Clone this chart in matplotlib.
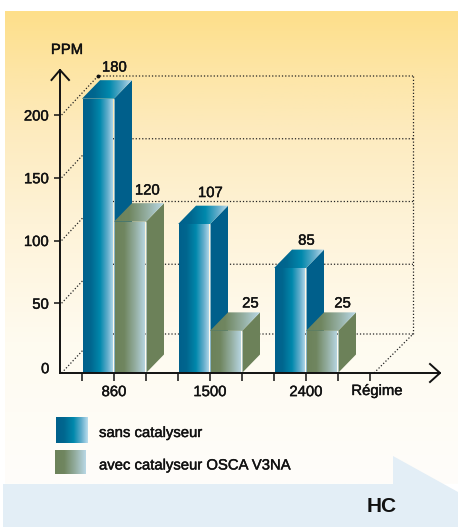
import numpy as np
import matplotlib
matplotlib.use("Agg")
import matplotlib.pyplot as plt
import matplotlib.patheffects as pe
from matplotlib.colors import LinearSegmentedColormap
from matplotlib.patches import Polygon

categories = ["860", "1500", "2400"]
series_names = ["sans catalyseur", "avec catalyseur OSCA V3NA"]
# printed value labels
labels_sans = [180, 107, 85]
labels_avec = [120, 25, 25]
# bar heights as drawn against the PPM axis
heights_sans = [213, 113, 78]
heights_avec = [115, 28, 28]
y_ticks = [50, 100, 150, 200]

W, H = 458, 527
PX_X, X0 = 32.0, 114.0      # px per category unit, px of first category
PX_Y, Y0 = 1.255, 366.0     # px per ppm, px of ppm 0
FLOOR = (Y0 - 373) / PX_Y
DX, DY = 18 / PX_X, 18.5 / PX_Y
WX, WY = 38 / PX_X, 39 / PX_Y
LEFT = (60 - X0) / PX_X
RIGHT = (440 - X0) / PX_X
TOP = (Y0 - 70) / PX_Y
YMAX_WALL = (Y0 - 115) / PX_Y
INK = "#111111"
FONT = "Liberation Sans"
FS = 10.7
HALO = [pe.withStroke(linewidth=0.3, foreground=INK)]

blue_cm = LinearSegmentedColormap.from_list("b", [(0, "#00608C"), (.25, "#00678F"), (.55, "#0088AC"), (.8, "#62ADCB"), (1, "#BBDDEE")])
green_cm = LinearSegmentedColormap.from_list("g", [(0, "#6C825A"), (.3, "#708660"), (.65, "#93AD9F"), (1, "#B9D8E6")])
bg_cm = LinearSegmentedColormap.from_list("bg", [(0, "#FEDF8A"), (.12, "#FDE5A4"), (.25, "#FDEBBE"), (.45, "#FEF3D8"), (.7, "#FFFBF0"), (1, "#FEFDFA")])
BLUE_SIDE, GREEN_SIDE = "#005F8B", "#6C8159"

fig = plt.figure(figsize=(W / 100, H / 100), dpi=100, facecolor="white")

# background layer, in pixels
bg = fig.add_axes([0, 0, 1, 1], zorder=0)
bg.set_xlim(0, W); bg.set_ylim(H, 0); bg.axis("off")
bg.imshow(np.linspace(0, 1, 256)[:, None], cmap=bg_cm, aspect="auto", extent=(5, W, 484, 11), zorder=1)
bg.add_patch(Polygon([(3, 484), (393, 484), (393, 456), (458, 492), (458, 527), (3, 527)], fc="#E3EEF6", ec="none", zorder=2))
bg.set_xlim(0, W); bg.set_ylim(H, 0)
grad = np.linspace(0, 1, 128)[None, :]
for (x0, x1, y0, y1), cm in zip([(56, 88, 417, 443), (55, 86, 450, 474)], [blue_cm, green_cm]):
    bg.imshow(grad, cmap=cm, aspect="auto", extent=(x0, x1, y1, y0), zorder=3)
bg.set_xlim(0, W); bg.set_ylim(H, 0)
for name, y in zip(series_names, [433, 465.5]):
    bg.text(99, y, name, fontsize=FS, family=FONT, color=INK, va="center", ha="left", zorder=4, path_effects=HALO)
bg.text(382, 507, "HC", fontsize=15, family=FONT, weight="bold", color=INK, va="center", ha="center", zorder=4)

# chart layer, in data units
ax = fig.add_axes([0, 0, 1, 1], zorder=1)
ax.patch.set_alpha(0)
xlim = (-X0 / PX_X, (W - X0) / PX_X)
ylim = ((Y0 - H) / PX_Y, Y0 / PX_Y)


def gradient(poly, cm, zorder):
    xs, ys = zip(*poly)
    im = ax.imshow(grad, cmap=cm, aspect="auto", zorder=zorder,
                   extent=(min(xs), max(xs), min(ys), max(ys)))
    patch = Polygon(poly, transform=ax.transData, fc="none", ec="none")
    ax.add_patch(patch)
    im.set_clip_path(patch)


def bar3d(x0, x1, h, cm, side, z):
    b = FLOOR
    ax.add_patch(Polygon([(x1, b), (x1 + DX, b + DY), (x1 + DX, h + DY), (x1, h)], fc=side, ec="none", zorder=z))
    gradient([(x0, h), (x1, h), (x1 + DX, h + DY), (x0 + DX, h + DY)], cm, z + .1)
    gradient([(x0 + .03, b), (x1 - .03, b), (x1 - .03, h), (x0 + .03, h)], cm, z + .2)
    ax.plot([x1, x1], [b, h], color="#C9DDE2", lw=.5, zorder=z + .3)


# back wall
dot = dict(color="#222222", lw=.9, ls=(0, (1, 1.6)), zorder=2)
wall_right = (413 - X0) / PX_X
for t in y_ticks:
    ax.plot([LEFT + .05, LEFT + WX, wall_right], [t, t + WY, t + WY], **dot)
ax.plot([LEFT + .05, LEFT + WX, wall_right], [FLOOR, FLOOR + WY, FLOOR + WY], **dot)
ax.plot([wall_right, wall_right], [FLOOR + WY, YMAX_WALL + WY], **dot)
ax.plot([wall_right - WX - .03, wall_right], [FLOOR, FLOOR + WY], **dot)
ax.plot([LEFT + WX], [YMAX_WALL + WY], "o", ms=1.8, color=INK, zorder=2)

# bars; labels sit closer to the short bars, and the two "25" labels drift right
z = 3
for i, (hs, ha_, ls, la) in enumerate(zip(heights_sans, heights_avec, labels_sans, labels_avec)):
    c = 3 * i
    bar3d(c - 1, c, hs, blue_cm, BLUE_SIDE, z)
    bar3d(c, c + 1, ha_, green_cm, GREEN_SIDE, z + 1)
    z += 2
    gap_s = 1.5 if hs < 100 else 4.5
    gap_a = 1.5 if ha_ < 100 else 4.5
    shift_a = {0: 0.0, 1: .22, 2: .1}[i]
    ax.text(c - .5 + DX - .05, hs + DY + gap_s, str(ls), fontsize=FS, family=FONT, color=INK, ha="center", va="bottom", zorder=20, path_effects=HALO)
    ax.text(c + .5 + DX - .02 + shift_a, ha_ + DY + gap_a, str(la), fontsize=FS, family=FONT, color=INK, ha="center", va="bottom", zorder=20, path_effects=HALO)

# axes
for s in ("top", "right"):
    ax.spines[s].set_visible(False)
for s in ("left", "bottom"):
    ax.spines[s].set_linewidth(1.4)
    ax.spines[s].set_color(INK)
    ax.spines[s].set_zorder(15)
ax.spines["left"].set_position(("data", LEFT))
ax.spines["bottom"].set_position(("data", FLOOR))
ax.spines["left"].set_bounds(FLOOR, TOP)
ax.spines["bottom"].set_bounds(LEFT, RIGHT)
x_ticks = list(range(-1, 9))
ax.set_xticks(x_ticks)
ax.set_xticklabels([categories[t // 3] if t in (0, 3, 6) else "" for t in x_ticks],
                   fontsize=FS, family=FONT, color=INK, path_effects=HALO)
ax.set_yticks(y_ticks)
ax.set_yticklabels([str(t) for t in y_ticks], fontsize=FS, family=FONT, color=INK, path_effects=HALO)
ax.tick_params(axis="x", direction="out", length=5.5, width=1.1, pad=3.2, color=INK)
ax.tick_params(axis="y", direction="out", length=4.5, width=1.1, pad=3.5, color=INK)
ax.set_xlim(*xlim); ax.set_ylim(*ylim)

ax.text(LEFT - .33, FLOOR + 3, "0", fontsize=FS, family=FONT, color=INK, ha="right", va="center", path_effects=HALO)
ax.text((67 - X0) / PX_X, (Y0 - 50) / PX_Y, "PPM", fontsize=FS, family=FONT, color=INK, ha="center", va="center", path_effects=HALO)
ax.text((377 - X0) / PX_X, (Y0 - 391) / PX_Y, "Régime", fontsize=FS, family=FONT, color=INK, ha="center", va="center", path_effects=HALO)

# arrow heads
ax.plot([LEFT - 8.5 / PX_X, LEFT, LEFT + 9 / PX_X], [TOP - 10 / PX_Y, TOP, TOP - 10 / PX_Y], color=INK, lw=1.4, zorder=16)
ax.plot([RIGHT - 10 / PX_X, RIGHT, RIGHT - 10 / PX_X], [FLOOR + 9 / PX_Y, FLOOR, FLOOR - 9 / PX_Y], color=INK, lw=1.4, zorder=16)

fig.savefig("out.png", dpi=100)
